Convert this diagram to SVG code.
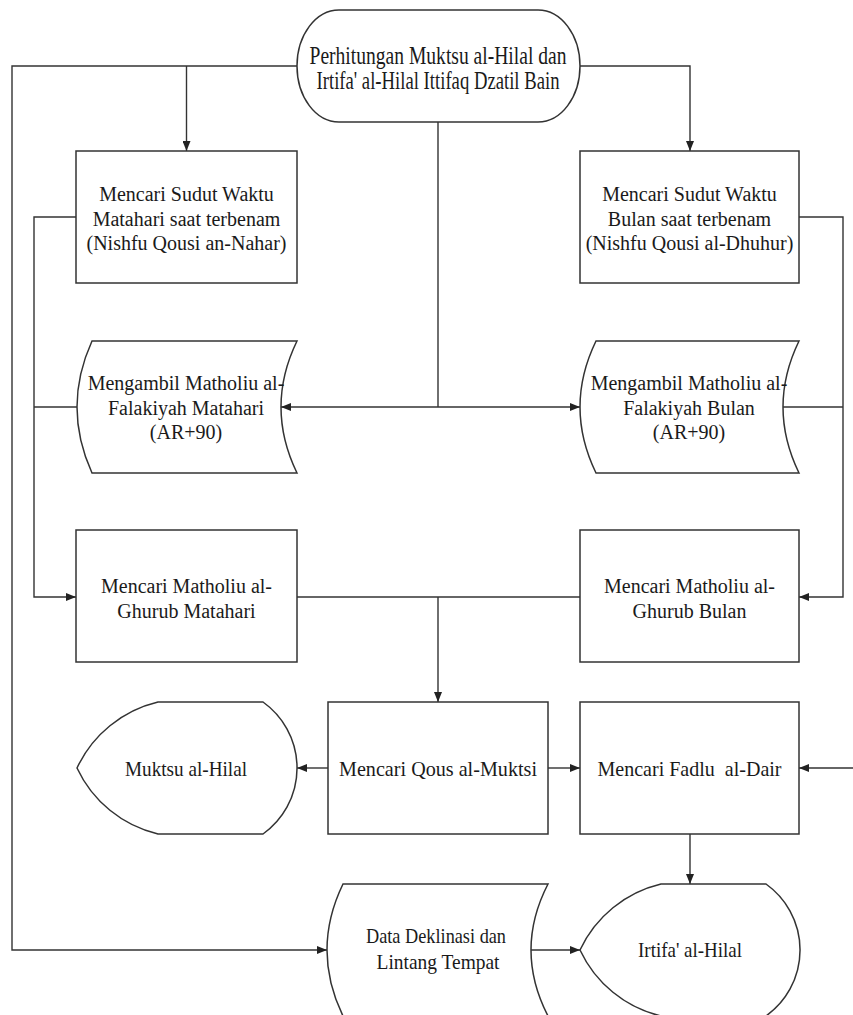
<svg xmlns="http://www.w3.org/2000/svg" width="853" height="1015" viewBox="0 0 853 1015">
  <style>
    .shape { fill: #ffffff; stroke: #333333; stroke-width: 1.5; }
    .wire { fill: none; stroke: #333333; stroke-width: 1.4; }
    .label { font-family: 'Liberation Serif', 'Times New Roman', serif; font-size: 20px; fill: #1a1a1a; text-anchor: middle; white-space: pre; }
    .tall { font-size: 25px; }
    .narrow { font-size: 22px; }
  </style>
  <defs>
    <marker id="arrow" markerUnits="userSpaceOnUse" markerWidth="10" markerHeight="8" refX="10" refY="4" orient="auto">
      <path d="M0,0 L10,4 L0,8 Z" fill="#222222"/>
    </marker>
  </defs>

  <rect width="853" height="1015" fill="#ffffff"/>

  <!-- connectors -->
  <g id="connectors">
    <polyline class="wire" points="297,66 12,66 12,950 327,950" marker-end="url(#arrow)"/>
    <line class="wire" x1="186.5" y1="66" x2="186.5" y2="151" marker-end="url(#arrow)"/>
    <polyline class="wire" points="580,66 690,66 690,151" marker-end="url(#arrow)"/>
    <line class="wire" x1="438" y1="122" x2="438" y2="407"/>
    <line class="wire" x1="438" y1="407" x2="281" y2="407" marker-end="url(#arrow)"/>
    <line class="wire" x1="438" y1="407" x2="580" y2="407" marker-end="url(#arrow)"/>
    <polyline class="wire" points="76,217 34,217 34,597 76,597" marker-end="url(#arrow)"/>
    <line class="wire" x1="77" y1="407" x2="34" y2="407"/>
    <polyline class="wire" points="799,217 843,217 843,597 799,597" marker-end="url(#arrow)"/>
    <line class="wire" x1="783" y1="407" x2="843" y2="407"/>
    <line class="wire" x1="297" y1="597" x2="580" y2="597"/>
    <line class="wire" x1="438" y1="597" x2="438" y2="702" marker-end="url(#arrow)"/>
    <line class="wire" x1="328" y1="768" x2="297" y2="768" marker-end="url(#arrow)"/>
    <line class="wire" x1="548" y1="768" x2="580" y2="768" marker-end="url(#arrow)"/>
    <line class="wire" x1="853" y1="768" x2="799" y2="768" marker-end="url(#arrow)"/>
    <line class="wire" x1="690" y1="834" x2="690" y2="884" marker-end="url(#arrow)"/>
    <line class="wire" x1="531" y1="950" x2="580" y2="950" marker-end="url(#arrow)"/>
  </g>

  <!-- start terminal -->
  <g id="start">
    <rect class="shape" x="297" y="10" width="283" height="112" rx="42" ry="56"/>
    <text class="label tall" x="438" y="64" textLength="257" lengthAdjust="spacingAndGlyphs">Perhitungan Muktsu al-Hilal dan</text>
    <text class="label tall" x="438" y="89" textLength="243" lengthAdjust="spacingAndGlyphs">Irtifa' al-Hilal Ittifaq Dzatil Bain</text>
  </g>

  <g id="sudut-matahari">
    <rect class="shape" x="76" y="151" width="221" height="132"/>
    <text class="label" x="186.5" y="201">Mencari Sudut Waktu</text>
    <text class="label" x="186.5" y="225.5">Matahari saat terbenam</text>
    <text class="label" x="186.5" y="250">(Nishfu Qousi an-Nahar)</text>
  </g>

  <g id="sudut-bulan">
    <rect class="shape" x="580" y="151" width="219" height="132"/>
    <text class="label" x="689.5" y="201">Mencari Sudut Waktu</text>
    <text class="label" x="689.5" y="225.5">Bulan saat terbenam</text>
    <text class="label" x="689.5" y="250">(Nishfu Qousi al-Dhuhur)</text>
  </g>

  <!-- stored data shapes -->
  <g id="falakiyah-matahari">
    <path class="shape" d="M92,341 L297,341 Q265,407 297,473 L92,473 Q62,407 92,341 Z"/>
    <text class="label" x="186" y="390">Mengambil Matholiu al-</text>
    <text class="label" x="186" y="415">Falakiyah Matahari</text>
    <text class="label" x="186" y="439">(AR+90)</text>
  </g>

  <g id="falakiyah-bulan">
    <path class="shape" d="M596,341 L799,341 Q767,407 799,473 L596,473 Q564,407 596,341 Z"/>
    <text class="label" x="689" y="390">Mengambil Matholiu al-</text>
    <text class="label" x="689" y="415">Falakiyah Bulan</text>
    <text class="label" x="689" y="439">(AR+90)</text>
  </g>

  <g id="ghurub-matahari">
    <rect class="shape" x="76" y="530" width="221" height="132"/>
    <text class="label" x="186.5" y="593">Mencari Matholiu al-</text>
    <text class="label" x="186.5" y="617.5">Ghurub Matahari</text>
  </g>

  <g id="ghurub-bulan">
    <rect class="shape" x="580" y="530" width="219" height="132"/>
    <text class="label" x="689.5" y="593">Mencari Matholiu al-</text>
    <text class="label" x="689.5" y="617.5">Ghurub Bulan</text>
  </g>

  <!-- display outputs -->
  <g id="muktsu">
    <path class="shape" d="M158,702 L263,702 A81,81 0 0 1 263,834 L158,834 A120,120 0 0 1 77,768 A120,120 0 0 1 158,702 Z"/>
    <text class="label narrow" x="186" y="776" textLength="122" lengthAdjust="spacingAndGlyphs">Muktsu al-Hilal</text>
  </g>

  <g id="qous-muktsi">
    <rect class="shape" x="328" y="702" width="220" height="132"/>
    <text class="label narrow" x="438" y="776" textLength="198" lengthAdjust="spacingAndGlyphs">Mencari Qous al-Muktsi</text>
  </g>

  <g id="fadlu-dair">
    <rect class="shape" x="580" y="702" width="219" height="132"/>
    <text class="label narrow" x="689.5" y="776" textLength="184" lengthAdjust="spacingAndGlyphs">Mencari Fadlu  al-Dair</text>
  </g>

  <g id="data-deklinasi">
    <path class="shape" d="M343,884 L548,884 Q514,950 548,1016 L343,1016 Q311,950 343,884 Z"/>
    <text class="label narrow" x="436" y="943" textLength="140" lengthAdjust="spacingAndGlyphs">Data Deklinasi dan</text>
    <text class="label narrow" x="438" y="969" textLength="123" lengthAdjust="spacingAndGlyphs">Lintang Tempat</text>
  </g>

  <g id="irtifa">
    <path class="shape" d="M661,884 L766,884 A81,81 0 0 1 766,1016 L661,1016 A120,120 0 0 1 580,950 A120,120 0 0 1 661,884 Z"/>
    <text class="label narrow" x="690" y="957" textLength="104" lengthAdjust="spacingAndGlyphs">Irtifa' al-Hilal</text>
  </g>
</svg>
